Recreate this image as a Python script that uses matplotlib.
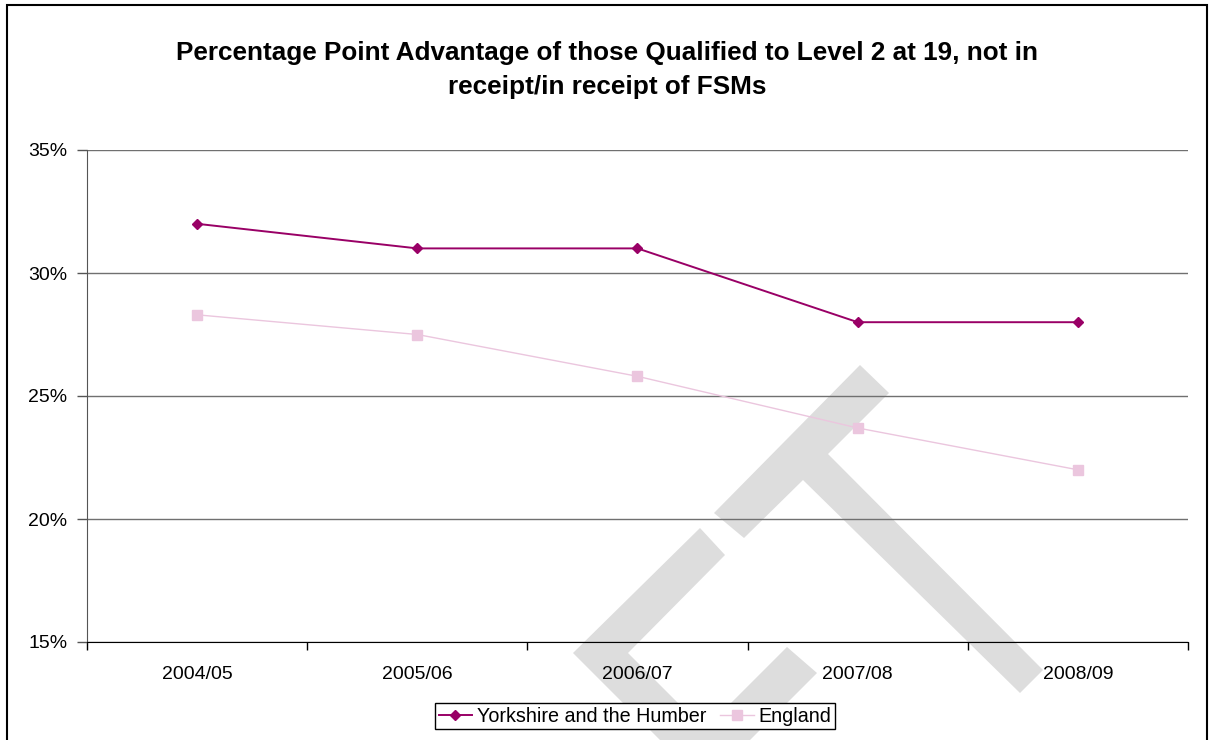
import matplotlib
matplotlib.use("Agg")
import matplotlib.pyplot as plt
from matplotlib.patches import Polygon, Rectangle
from matplotlib.ticker import FixedLocator, FuncFormatter

plt.rcParams['font.family'] = ['Liberation Sans', 'DejaVu Sans']

# data
years = ['2004/05', '2005/06', '2006/07', '2007/08', '2008/09']
yorkshire = [32.0, 31.0, 31.0, 28.0, 28.0]
england = [28.3, 27.5, 25.8, 23.7, 22.0]

W, H = 1210, 740


def fig_xy(points):
    """pixel coords (y down) -> figure fraction"""
    return [(x / W, 1 - y / H) for x, y in points]


def draw_watermark(fig):
    shapes = [
        [(700, 528), (725, 555), (628, 653), (715, 740), (660, 740), (573, 653)],
        [(787, 647), (817, 673), (750, 740), (694, 740)],
        [(714, 513), (860, 365), (889, 393), (828, 454), (1043, 670),
         (1020, 693), (803, 480), (744, 538)],
    ]
    for pts in shapes:
        fig.patches.append(Polygon(fig_xy(pts), closed=True, transform=fig.transFigure,
                                   facecolor='#dddddd', edgecolor='none', zorder=-5))


fig = plt.figure(figsize=(W / 100, H / 100), dpi=100)
fig.patch.set_facecolor('white')
draw_watermark(fig)

ax = fig.add_axes([87 / W, 1 - 642 / H, (1188 - 87) / W, (642 - 150) / H])
ax.set_facecolor('none')

x = list(range(len(years)))
ax.plot(x, yorkshire, color='#990066', lw=1.4, marker='D', ms=5,
        label='Yorkshire and the Humber', zorder=3)
ax.plot(x, england, color='#ebc6de', lw=1.0, marker='s', ms=6.5,
        label='England', zorder=3)

ax.set_xlim(-0.5, len(years) - 0.5)
ax.set_ylim(15, 35)
ax.yaxis.set_major_locator(FixedLocator([15, 20, 25, 30, 35]))
ax.yaxis.set_major_formatter(FuncFormatter(lambda v, p: f'{v:.0f}%'))
ax.grid(axis='y', color='#707070', lw=1.0)
ax.set_axisbelow(True)

# category boundary ticks, labels centred between them
ax.xaxis.set_major_locator(FixedLocator([i - 0.5 for i in range(len(years) + 1)]))
ax.xaxis.set_major_formatter(FuncFormatter(lambda v, p: ''))
ax.xaxis.set_minor_locator(FixedLocator(x))
ax.set_xticklabels(years, minor=True)
ax.tick_params(axis='x', which='major', direction='out', length=6, width=1, color='black')
ax.tick_params(axis='x', which='minor', length=0, pad=17, labelsize=14)
ax.tick_params(axis='y', direction='out', length=7, width=1, color='#555555',
               pad=7, labelsize=14)

for s in ('top', 'right'):
    ax.spines[s].set_visible(False)
ax.spines['left'].set_color('#555555')
ax.spines['bottom'].set_color('black')

fig.text(607 / W, 1 - 70 / H,
         'Percentage Point Advantage of those Qualified to Level 2 at 19, not in\n'
         'receipt/in receipt of FSMs',
         ha='center', va='center', fontsize=18.8, fontweight='bold', linespacing=1.55)

leg = fig.legend(loc='center', bbox_to_anchor=(635 / W, 1 - 716 / H), ncol=2,
                 fontsize=14.2, frameon=True, fancybox=False, shadow=False,
                 handlelength=1.7, handletextpad=0.25, columnspacing=0.7,
                 borderpad=0.2, borderaxespad=0)
leg.get_frame().set_edgecolor('black')
leg.get_frame().set_linewidth(1.0)
leg.get_frame().set_alpha(1)

# outer chart border
fig.patches.append(Rectangle((7 / W, -0.05), 1200 / W, 1.05 - 5 / H, transform=fig.transFigure,
                             fill=False, edgecolor='black', lw=1.5, zorder=10))

fig.savefig('out.png', dpi=100)
